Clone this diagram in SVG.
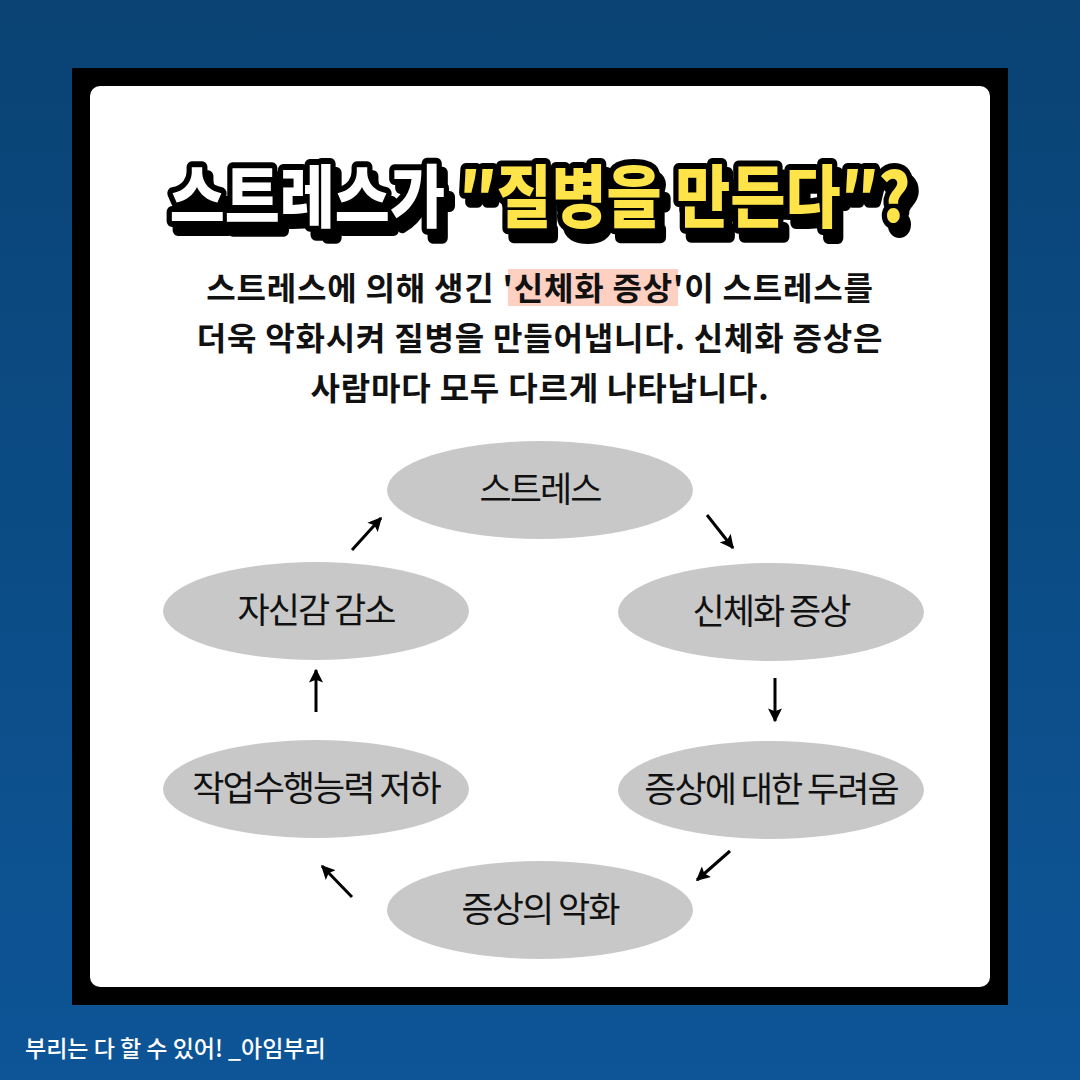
<svg xmlns="http://www.w3.org/2000/svg" width="1080" height="1080" viewBox="0 0 1080 1080">
<defs>
<linearGradient id="bg" x1="0" y1="0" x2="0" y2="1">
<stop offset="0" stop-color="#0a4374"/>
<stop offset="1" stop-color="#0d5597"/>
</linearGradient>
<filter id="shadow" x="-5%" y="-20%" width="115%" height="150%">
<feDropShadow dx="6" dy="9" stdDeviation="0" flood-color="#000" flood-opacity="1"/>
</filter>
<marker id="ah" viewBox="0 0 10 10" refX="9" refY="5" markerWidth="14" markerHeight="14" orient="auto" markerUnits="userSpaceOnUse">
<path d="M0,0 L10,5 L0,10 L2,5 z" fill="#000"/>
</marker>
<style>
.title{font-family:"Noto Sans CJK KR",sans-serif;font-weight:900;font-size:68px;}
.body{font-family:"Noto Sans CJK KR",sans-serif;font-weight:700;font-size:32px;fill:#111;letter-spacing:0.8px;}
.node ellipse{fill:#c8c8c8;}
.node text{font-family:"Noto Sans CJK KR",sans-serif;font-weight:400;font-size:35px;fill:#111;text-anchor:middle;letter-spacing:-2px;}
.conn line{stroke:#000;stroke-width:3;marker-end:url(#ah);}
.foot{font-family:"Noto Sans CJK KR",sans-serif;font-weight:500;font-size:23px;fill:#fff;}
</style>
</defs>
<rect width="1080" height="1080" fill="url(#bg)"/>
<rect x="72" y="68" width="936" height="937" fill="#000"/>
<rect x="90" y="86" width="900" height="901" rx="10" fill="#fff"/>

<g id="title" filter="url(#shadow)">
<text class="title" x="540" y="222" text-anchor="middle" stroke="#000" stroke-width="12" stroke-linejoin="round" paint-order="stroke" fill="#fff" transform="translate(540,0) scale(0.88,1) translate(-540,0)">스트레스가 <tspan fill="#ffe448">″질병을 만든다″?</tspan></text>
</g>

<g id="body">
<rect x="508" y="269" width="170" height="37" fill="#fdd0c2"/>
<text class="body" x="540" y="300" text-anchor="middle">스트레스에 의해 생긴 '신체화 증상'이 스트레스를</text>
<text class="body" x="540" y="350" text-anchor="middle">더욱 악화시켜 질병을 만들어냅니다. 신체화 증상은</text>
<text class="body" x="540" y="400" text-anchor="middle">사람마다 모두 다르게 나타납니다.</text>
</g>

<g id="n1" class="node"><ellipse cx="540" cy="490" rx="153" ry="49"/><text x="540" y="502">스트레스</text></g>
<g id="n2" class="node"><ellipse cx="771" cy="612" rx="153" ry="49"/><text x="771" y="624">신체화 증상</text></g>
<g id="n3" class="node"><ellipse cx="771" cy="790" rx="153" ry="49"/><text x="771" y="802">증상에 대한 두려움</text></g>
<g id="n4" class="node"><ellipse cx="540" cy="910" rx="153" ry="49"/><text x="540" y="922">증상의 악화</text></g>
<g id="n5" class="node"><ellipse cx="316" cy="789" rx="153" ry="49"/><text x="316" y="801">작업수행능력 저하</text></g>
<g id="n6" class="node"><ellipse cx="316" cy="611" rx="153" ry="49"/><text x="316" y="623">자신감 감소</text></g>

<g id="connectors" class="conn">
<line x1="707" y1="515" x2="733" y2="548"/>
<line x1="775" y1="678" x2="775" y2="721"/>
<line x1="730" y1="851" x2="697" y2="880"/>
<line x1="352" y1="897" x2="322" y2="866"/>
<line x1="316" y1="712" x2="316" y2="670"/>
<line x1="352" y1="550" x2="381" y2="518"/>
</g>

<text class="foot" x="25" y="1057">부리는 다 할 수 있어! _아임부리</text>
</svg>
